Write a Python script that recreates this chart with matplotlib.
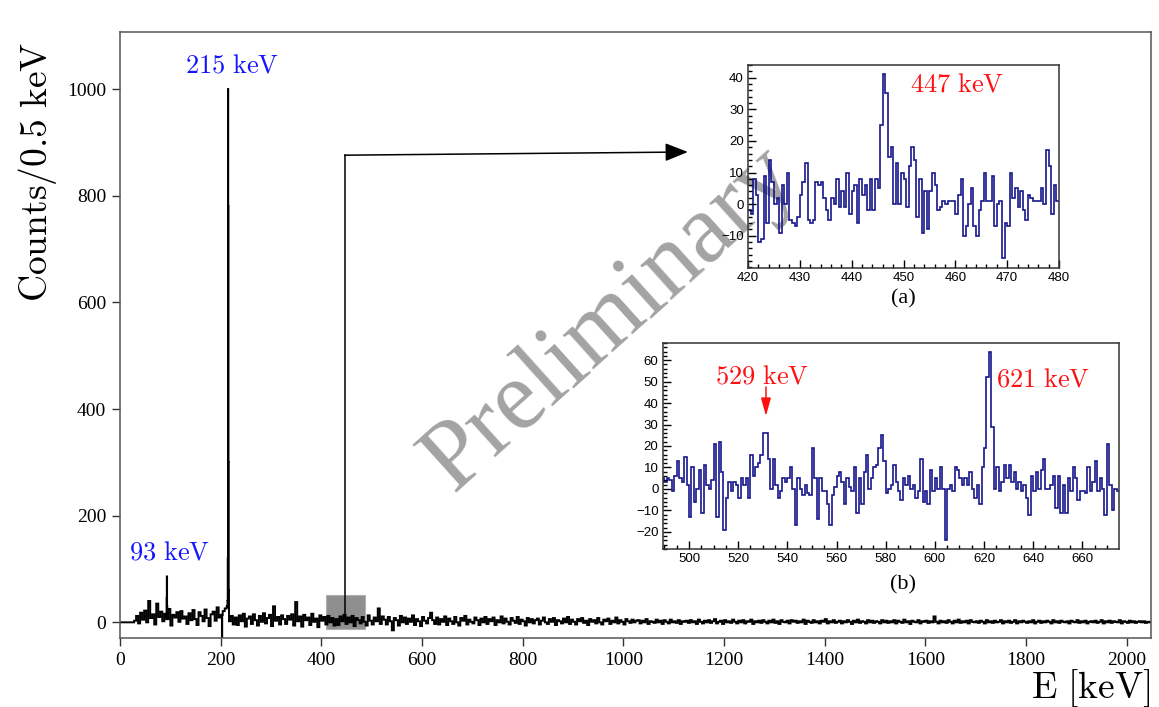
import numpy as np
import matplotlib
matplotlib.use('Agg')
import matplotlib.pyplot as plt
from matplotlib.patches import Rectangle
from matplotlib.ticker import MultipleLocator

plt.rcParams['font.family'] = ['Liberation Serif', 'DejaVu Serif']
plt.rcParams['mathtext.fontset'] = 'cm'

# ---------------- data ----------------
# main spectrum: coarse background, 4 keV bins starting at 28 keV
bg_start = 28.0
bg_width = 4.0
bg_counts = [
    3, 12, -2, 18, 5, 22, 0, 40, 8, 15, -4, 35, 10, 20, 2, 16, 6, 25, -6, 14, 9, 19, 1, 21, 7,
    11, -3, 17, 4, 23, 6, -5, 19, 12, 2, 24, 8, -7, 15, 20, 3, 28, 9, 14, 21, 26, 30, 2, 12, -4,
    9, -5, 13, 2, 16, -8, 7, 11, -3, 15, 4, -6, 12, 1, 17, -2, 8, 14, -7, 30, 3, 10, -4, 13, 6,
    -3, 12, 5, 15, -6, 38, 2, 11, -8, 14, 4, 9, -5, 16, 1, 7, -9, 13, 3, 10, -4, 12, 0, 8, -6,
    6, -5, 11, 2, 14, -3, 9, 0, 12, -7, 8, 4, -2, 10, 1, -6, 13, 3, -4, 9, 2, 26, -3, 11, 5,
    -4, 10, 2, -15, 8, 4, -6, 12, 0, 9, -3, 7, 1, 13, -5, 6, 2, -7, 10, 3, -2, 8, 18, 4, -3,
    9, -4, 6, 1, 11, -5, 7, 2, -3, 10, 0, -6, 8, 3, 12, -4, 5, 1, -2, 9, 4, -5, 7, 0, 10,
    -3, 6, 2, 9, -5, 4, 0, 11, -2, 7, 1, -4, 8, 3, -1, 10, -3, 5, 2, -6, 8, 0, 6, -2, 4,
    7, -4, 3, 9, 0, -3, 6, 1, 8, -5, 4, 2, -2, 7, 0, 10, -3, 5, 1, -4, 6, 2, 8, -1, 3,
    -5, 6, 1, 4, -2, 8, 0, -4, 5, 2, 7, -3, 3, 0, 9, -2, 4, 1, -4, 6, 2, -1, 5, 0, 3,
    4, -2, 3, 0, 6, -3, 2, 1, -1, 5, 0, 3, -3, 4, 1, -2, 5, 0, 2, -1, 4, -3, 2, 1, 3,
    -1, 4, 0, 2, -3, 5, 1, -2, 3, 0, 4, -1, 2, 6, -2, 1, 3, -3, 4, 0, 2, -1, 5, 1, -2,
    3, 0, 4, -2, 2, 1, 5, -3, 2, 0, 3, -1, 4, 1, -2, 3, 0, 5, -1, 2, -3, 4, 1, 0, 3,
    -2, 4, 1, 3, -1, 2, 0, 5, -3, 3, 1, -1, 4, 0, 2, -2, 3, 1, 6, -2, 2, 0, 4, -1, 1,
    3, -2, 2, 0, 4, 1, -3, 3, 0, 5, -1, 2, 1, -2, 4, 0, 3, -1, 2, 1, -2, 4, 0, 3, -1,
    2, 0, 4, -2, 3, 1, -1, 5, 0, 2, -3, 3, 1, 0, 4, -2, 2, 1, 3, -1, 2, 0, 11, 1, -2,
    3, 0, 2, -1, 4, 1, -2, 3, 0, 5, -1, 2, 0, 3, -2, 4, 1, 0, 2, -1, 3, 1, -2, 4, 0,
    2, -1, 3, 0, 1, 4, -2, 2, 0, 3, -1, 1, 4, -2, 2, 0, 3, 1, -1, 2, 0, 4, -2, 1, 3,
    -1, 2, 0, 3, 1, -2, 4, 0, 2, -1, 3, 1, 0, 2, -2, 3, 1, 0, 4, -1, 2, 0, 3, -2, 1,
    2, 0, 3, -1, 1, 4, -2, 2, 0, 3, -1, 2, 1, 0, 4, -2, 2, 1, -1, 3, 0, 2, -1, 1, 2,
    0, 2, -1, 1, 0,
]
# main spectrum: fine 0.5 keV bins (lower edges) around the sharp features
fine_lo = [92.5, 93.0, 93.5, 202.5, 213.5, 214.0, 214.5, 215.0, 215.5, 216.0]
fine_counts = [45, 86, 30, -45, 40, 120, 1000, 780, 300, 60]

# inset (a): 420-480 keV, 0.5 keV bins
a_start = 420.0
a_width = 0.5
a_counts = [
    -2, -3, 8, 3, -12, -11, 9, -6, 14, 7,
    0, 2, -9, 6, 0, 10, -5, -6, -7, -4,
    3, 7, 13, -5, -6, -5, 7, 6, 7, 2,
    -2, -5, 2, 0, 8, -1, 4, -1, 10, -3,
    4, 6, -6, 8, 3, 6, -2, 8, -2, 8,
    5, 25, 41, 35, 15, 18, 0, 13, 0, 10,
    8, -1, 12, 18, 14, -4, 8, -9, 4, -8,
    4, 10, 6, -2, -1, 1, 0, 1, 1, 1,
    -3, 3, 8, -10, -7, 0, 5, -7, -10, -2,
    1, 10, 1, 1, 9, -7, 0, 1, -17, -6,
    -7, 10, 2, 5, -1, 4, -2, -5, 3, 2,
    1, 1, 1, 5, 0, 17, 12, -3, 6, 1,
]
a_yticks = [-10, 0, 10, 20, 30, 40]

# inset (b): 489-675 keV, 1 keV bins
b_start = 489.0
b_width = 1.0
b_counts = [
    5, 3, 5, 4, -1, 6, 13, 5, 3, 15,
    2, -13, 10, -6, 0, 9, -11, 11, 2, 0,
    4, 21, -13, 22, 8, -19, -4, 3, -1, 3,
    2, -4, 5, 2, 5, -4, 16, 6, 10, 12,
    16, 26, 26, 14, 0, 14, 2, -4, -1, 5,
    3, 5, 10, 0, -17, 5, 0, -3, 2, -2,
    -3, 19, 5, -14, 5, -1, -1, -7, -17, -3,
    1, 6, 8, 3, -7, 5, 1, -1, 10, -11,
    5, -7, 8, 16, 0, 5, 10, 11, 19, 25,
    13, -2, 0, 2, 11, 3, -1, -5, 5, 2,
    6, 0, 2, -4, -1, 14, -6, -1, -7, 9,
    -1, 5, 0, 10, 0, -24, 0, 2, -1, 10,
    9, 5, 2, 5, 2, 8, 0, -4, 2, -7,
    10, 19, 52, 64, 29, 0, 10, -1, 3, 11,
    5, 11, 3, 8, 0, 3, -1, 2, -4, -12,
    6, -1, 8, 0, 9, 14, 0, 0, 2, 6,
    -9, 6, -11, 2, -11, 5, -1, 10, 5, -5,
    -1, -1, -2, 10, -1, 3, 13, -1, 5, 0,
    -12, 21, 2, -10, 0, -1,
]
b_yticks = [-20, -10, 0, 10, 20, 30, 40, 50, 60]

main_xticks = [0, 200, 400, 600, 800, 1000, 1200, 1400, 1600, 1800, 2000]
main_yticks = [0, 200, 400, 600, 800, 1000]

# ---------------- figure ----------------
W, H = 1159, 707
fig = plt.figure(figsize=(W / 100, H / 100), dpi=100)


def fx(px):
    return px / W


def fy(py):
    return 1 - py / H


ax = fig.add_axes([fx(120), fy(638), fx(1031), 606 / H])

# build combined step histogram for the main spectrum
coarse_edges = bg_start + bg_width * np.arange(len(bg_counts) + 1)
fine_lo_arr = np.array(fine_lo)
edges = np.unique(np.concatenate([[0.0], coarse_edges, fine_lo_arr, fine_lo_arr + 0.5]))
mids = 0.5 * (edges[:-1] + edges[1:])
vals = np.zeros(len(mids))
idx = np.searchsorted(coarse_edges, mids) - 1
inside = (idx >= 0) & (idx < len(bg_counts))
vals[inside] = np.array(bg_counts, dtype=float)[idx[inside]]
for lo, v in zip(fine_lo, fine_counts):
    vals[(mids > lo) & (mids < lo + 0.5)] = v

ax.add_patch(Rectangle((410, -13), 76, 65, facecolor='#8f8f8f', edgecolor='#b0b0b0',
                       lw=0.8, zorder=1))
ax.stairs(vals, edges, baseline=None, color='black', lw=1.4, zorder=2)

ax.set_xlim(0, 2048)
ax.set_ylim(-29.4, 1107)
ax.set_xticks(main_xticks)
ax.set_yticks(main_yticks)
ax.tick_params(direction='out', length=6, width=1, labelsize=14, top=False, right=False,
               pad=4, color='#333333')
for sp in ax.spines.values():
    sp.set_color('#555555')
    sp.set_linewidth(1.1)

# arrow from the shaded box to inset (a)
ax.plot([447.3, 447.3], [10, 876], color='black', lw=1.1, zorder=3)
ax.annotate('', xy=(1128, 882), xytext=(446.5, 876),
            arrowprops=dict(arrowstyle='-|>,head_length=1.0,head_width=0.4',
                            mutation_scale=14, color='black', lw=1.1,
                            shrinkA=0, shrinkB=0), zorder=3)

# watermark (inside main axes so the insets draw over it)
ax.text(fx(610), fy(320), 'Preliminary', transform=fig.transFigure, rotation=42,
        rotation_mode='anchor', fontsize=71, color='#a3a3a3', ha='center', va='center',
        family='Liberation Serif', zorder=0.5)

# labels
fig.text(fx(38), fy(172), r'$\mathrm{Counts/0.5\ keV}$', rotation=90, fontsize=27,
         ha='center', va='center')
fig.text(fx(1150), fy(688), r'$\mathrm{E\ [keV]}$', fontsize=27, ha='right', va='center')
fig.text(fx(232), fy(66), r'$\mathrm{215\ keV}$', fontsize=19, color='#1515ff',
         ha='center', va='center')
fig.text(fx(170), fy(553), r'$\mathrm{93\ keV}$', fontsize=19, color='#1515ff',
         ha='center', va='center')

hist_color = '#16168c'

# ---------------- inset (a) ----------------
axa = fig.add_axes([fx(748), fy(268), fx(311), 203 / H], facecolor='none')
a_edges = a_start + a_width * np.arange(len(a_counts) + 1)
axa.stairs(a_counts, a_edges, baseline=None, color=hist_color, lw=1.2)
axa.set_xlim(420, 480)
axa.set_ylim(-20.2, 44)
axa.xaxis.set_major_locator(MultipleLocator(10))
axa.xaxis.set_minor_locator(MultipleLocator(2))
axa.set_yticks(a_yticks)
axa.yaxis.set_minor_locator(MultipleLocator(2))
axa.tick_params(which='both', direction='in', top=False, right=False, labelsize=9.5,
                labelfontfamily='Liberation Sans', width=1)
axa.tick_params(which='major', length=6, pad=3)
axa.tick_params(which='minor', length=3)
for sp in axa.spines.values():
    sp.set_color('#333333')
    sp.set_linewidth(1.1)
fig.text(fx(957), fy(85), r'$\mathrm{447\ keV}$', fontsize=19, color='#ff1010',
         ha='center', va='center')
fig.text(fx(903), fy(299), '(a)', fontsize=16, ha='center', va='center')

# ---------------- inset (b) ----------------
axb = fig.add_axes([fx(662.7), fy(549), fx(456.3), 206 / H], facecolor='none')
b_edges = b_start + b_width * np.arange(len(b_counts) + 1)
axb.stairs(b_counts, b_edges, baseline=None, color=hist_color, lw=1.2)
axb.set_xlim(489.3, 674.9)
axb.set_ylim(-28, 68)
axb.xaxis.set_major_locator(MultipleLocator(20))
axb.xaxis.set_minor_locator(MultipleLocator(5))
axb.set_yticks(b_yticks)
axb.yaxis.set_minor_locator(MultipleLocator(2))
axb.tick_params(which='both', direction='in', top=False, right=False, labelsize=9.5,
                labelfontfamily='Liberation Sans', width=1)
axb.tick_params(which='major', length=6, pad=3)
axb.tick_params(which='minor', length=3)
for sp in axb.spines.values():
    sp.set_color('#333333')
    sp.set_linewidth(1.1)
fig.text(fx(762), fy(377), r'$\mathrm{529\ keV}$', fontsize=19, color='#ff1010',
         ha='center', va='center')
fig.text(fx(1043), fy(380), r'$\mathrm{621\ keV}$', fontsize=19, color='#ff1010',
         ha='center', va='center')
axb.annotate('', xy=(531.3, 34), xytext=(531.3, 47.5),
             arrowprops=dict(arrowstyle='-|>,head_length=0.9,head_width=0.25',
                             mutation_scale=12, color='#ff1010', lw=1.1,
                             shrinkA=0, shrinkB=0))
fig.text(fx(903), fy(585), '(b)', fontsize=16, ha='center', va='center')

fig.savefig('out.png', dpi=100)
